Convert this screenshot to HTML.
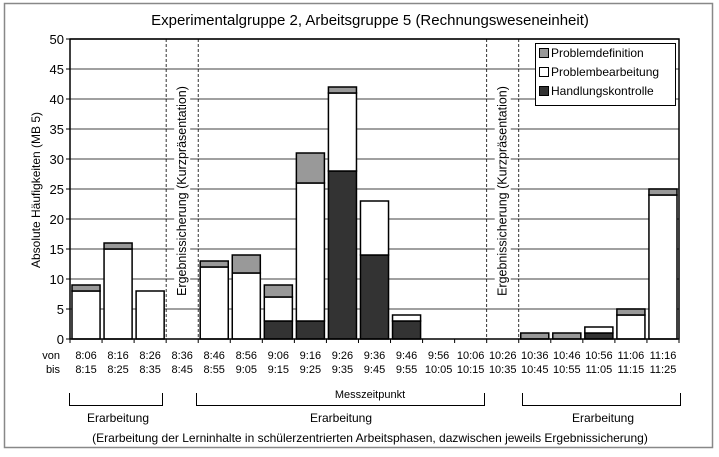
<!DOCTYPE html>
<html><head><meta charset="utf-8"><style>
body{margin:0;background:#fff;}
svg text{font-family:"Liberation Sans",sans-serif;fill:#000;}
</style></head><body>
<svg width="719" height="452" viewBox="0 0 719 452" xmlns="http://www.w3.org/2000/svg">
<rect x="4.5" y="3.5" width="708" height="444" fill="#fff" stroke="#888" stroke-width="1.5"/>
<text x="370" y="25" font-size="15" text-anchor="middle">Experimentalgruppe 2, Arbeitsgruppe 5 (Rechnungsweseneinheit)</text>
<g id="grid"></g>
<g id="bands"></g>
<g id="bars"></g>
<g id="axes"></g>
<text transform="translate(40,190) rotate(-90)" font-size="12" text-anchor="middle">Absolute Häufigkeiten (MB 5)</text>
<g>
<rect x="535.5" y="43.5" width="140" height="62" fill="#fff" stroke="#000"/>
<rect x="539.5" y="48.5" width="9" height="9" fill="#999" stroke="#000"/>
<text x="551" y="57" font-size="12">Problemdefinition</text>
<rect x="539.5" y="67.5" width="9" height="9" fill="#fff" stroke="#000"/>
<text x="551" y="76" font-size="12">Problembearbeitung</text>
<rect x="539.5" y="86.5" width="9" height="9" fill="#333" stroke="#000"/>
<text x="551" y="95" font-size="12">Handlungskontrolle</text>
</g>
<g id="xlabels"></g>
<text x="60" y="359" font-size="11" text-anchor="end">von</text>
<text x="60" y="373" font-size="11" text-anchor="end">bis</text>
<text x="370" y="398" font-size="11" text-anchor="middle">Messzeitpunkt</text>
<path d="M69.5 393 V405.5 H162.5 V393" fill="none" stroke="#000"/>
<path d="M196.5 393 V405.5 H484.5 V393" fill="none" stroke="#000"/>
<path d="M522.5 393 V405.5 H680.5 V393" fill="none" stroke="#000"/>
<text x="118" y="422" font-size="12" text-anchor="middle">Erarbeitung</text>
<text x="341" y="422" font-size="12" text-anchor="middle">Erarbeitung</text>
<text x="603" y="422" font-size="12" text-anchor="middle">Erarbeitung</text>
<text x="370" y="442" font-size="12" text-anchor="middle">(Erarbeitung der Lerninhalte in schülerzentrierten Arbeitsphasen, dazwischen jeweils Ergebnissicherung)</text>
</svg>
<script>
const fromLabels=["8:06","8:16","8:26","8:36","8:46","8:56","9:06","9:16","9:26","9:36","9:46","9:56","10:06","10:26","10:36","10:46","10:56","11:06","11:16"];
const toLabels=["8:15","8:25","8:35","8:45","8:55","9:05","9:15","9:25","9:35","9:45","9:55","10:05","10:15","10:35","10:45","10:55","11:05","11:15","11:25"];
const handlungskontrolle=[0,0,0,0,0,0,3,3,28,14,3,0,0,0,0,0,1,0,0];
const problembearbeitung=[8,15,8,0,12,11,4,23,13,9,1,0,0,0,0,0,1,4,24];
const problemdefinition=[1,1,0,0,1,3,2,5,1,0,0,0,0,0,1,1,0,1,1];
const yTicks=[0,5,10,15,20,25,30,35,40,45,50];
const presentationIdx=[3,13];
const NS="http://www.w3.org/2000/svg";
const X0=70,X1=679,Y0=339,Y1=39,YMAX=50;
const n=fromLabels.length,cw=(X1-X0)/n;
const xs=i=>X0+i*cw;
const ys=v=>Y0-(v/YMAX)*(Y0-Y1);
function mk(tag,attrs,parent,txt){const e=document.createElementNS(NS,tag);for(const k in attrs)e.setAttribute(k,attrs[k]);if(txt!=null)e.textContent=txt;parent.appendChild(e);return e;}
const grid=document.getElementById('grid'),bands=document.getElementById('bands'),bars=document.getElementById('bars'),axes=document.getElementById('axes'),xl=document.getElementById('xlabels');
yTicks.forEach(t=>{
 if(t>0){const l=mk('line',{x1:X0,x2:X1,y1:ys(t),y2:ys(t),stroke:'#808080','stroke-width':1.5},grid);
 
 }
 const tl=mk('text',{x:X0-6,y:ys(t)+5,'font-size':13,'text-anchor':'end'},axes,t);
 
 
 mk('line',{x1:X0-4,x2:X0,y1:ys(t),y2:ys(t),stroke:'#000'},axes);
});
presentationIdx.forEach(i=>{
 const a=xs(i),b=xs(i+1),m=(a+b)/2;
 mk('rect',{x:m-8,y:80,width:16,height:222,fill:'#fff'},bands);
 [a,b].forEach(x=>{const d=mk('line',{x1:x,x2:x,y1:Y1,y2:Y0,stroke:'#000','stroke-dasharray':'3,2','stroke-width':0.8},bands);
 
 });
 const t=mk('text',{transform:`translate(${m+4},191) rotate(-90)`,'font-size':12.5,'text-anchor':'middle'},bands,'Ergebnissicherung (Kurzpräsentation)');
 
 
});
for(let i=0;i<n;i++){
 const bx=xs(i)+2,bw=cw-4;
 const segs=[[handlungskontrolle[i],'#333','handlungskontrolle'],[problembearbeitung[i],'#fff','problembearbeitung'],[problemdefinition[i],'#999','problemdefinition']];
 let base=0;
 segs.forEach(([v,c,nm])=>{
  if(v<=0)return;
  const r=mk('rect',{x:bx,y:ys(base+v),width:bw,height:ys(base)-ys(base+v),fill:c,stroke:'#000','stroke-width':1.5},bars);
  
  
  base+=v;
 });
 const a=mk('text',{x:xs(i)+cw/2,y:359,'font-size':11,'text-anchor':'middle'},xl,fromLabels[i]);
 
 
 const b=mk('text',{x:xs(i)+cw/2,y:373,'font-size':11,'text-anchor':'middle'},xl,toLabels[i]);
 
 
}
for(let i=0;i<=n;i++)mk('line',{x1:xs(i),x2:xs(i),y1:Y0,y2:Y0+4,stroke:'#000'},axes);
mk('rect',{x:X0,y:Y1,width:X1-X0,height:Y0-Y1,fill:'none',stroke:'#000','stroke-width':1.5},axes);
</script>
</body></html>
